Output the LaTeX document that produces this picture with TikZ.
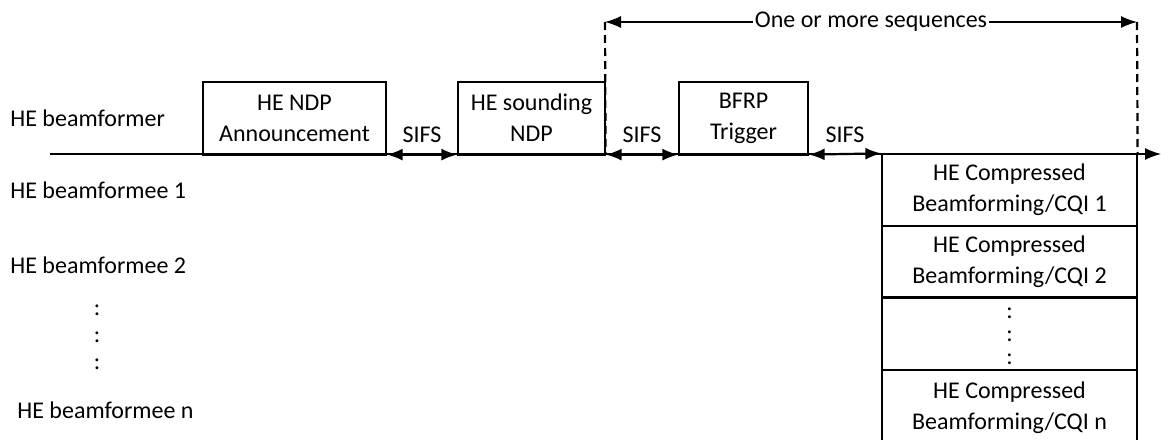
\documentclass[tikz,border=0pt]{standalone}
\usepackage{fontspec}
\setmainfont{Carlito}
\usetikzlibrary{arrows.meta}
\tikzset{
  frame/.style={draw, line width=0.6pt, align=center, inner sep=0pt},
  gap/.style={{Latex[length=8pt,width=6pt]}-{Latex[length=8pt,width=6pt]}, line width=1.1pt},
  span/.style={{Latex[length=8pt,width=6pt]}-{Latex[length=8pt,width=6pt]}, line width=0.6pt},
  guide/.style={dashed, line width=1.1pt, dash pattern=on 4pt off 2.5pt},
  station/.style={anchor=west, inner sep=0pt},
}
\begin{document}
\begin{tikzpicture}[x=0.5pt, y=-0.5pt, font=\fontsize{12}{15.5}\selectfont]
    \useasboundingbox (0,0) rectangle (1161,439);

    % Draw the station names
    \node[station] (bfr) at (10,118) {HE beamformer};
    \node[station] (bfe1) at (10,190) {HE beamformee 1};
    \node[station] (bfe2) at (10,265) {HE beamformee 2};
    \node (dl1) at (97,310) {:};
    \node (dl2) at (97,337) {:};
    \node (dl3) at (97,364) {:};
    \node[station] (bfen) at (17,410) {HE beamformee n};

    % Draw the timeline
    \coordinate (t0) at (50,154);
    \coordinate (t1) at (1161,154);
    \draw[line width=0.6pt, -{Latex[length=8pt,width=6pt]}] (t0) -- (t1);

    % Draw the frames
    \node[frame, minimum width=91.5pt, minimum height=36pt] (ann) at (294.5,118) {HE NDP\\Announcement};
    \node[frame, minimum width=73.5pt, minimum height=36pt] (ndp) at (531.5,118) {HE sounding\\NDP};
    \node[frame, minimum width=64.5pt, minimum height=36pt] (trig) at (743.5,118) {BFRP\\Trigger};
    \node[frame, minimum width=127.5pt, minimum height=36pt] (cbf1) at (1009.5,190) {HE Compressed\\Beamforming/CQI 1};
    \node[frame, minimum width=127.5pt, minimum height=35.5pt] (cbf2) at (1009.5,261.5) {HE Compressed\\Beamforming/CQI 2};
    \node[frame, minimum width=127.5pt, minimum height=36.5pt] (cbfd) at (1009.5,333.5) {};
    \node[frame, minimum width=127.5pt, minimum height=37.5pt] (cbfn) at (1009.5,407.5) {HE Compressed\\Beamforming/CQI n};
    \node (dr1) at (1009.5,313) {:};
    \node (dr2) at (1009.5,336) {:};
    \node (dr3) at (1009.5,359) {:};
    \draw[line width=1.4pt] (cbf2.south west) -- (cbf2.south east);
    \draw[line width=1.4pt] (ann.south west) -- (ann.south east);
    \draw[line width=1.4pt] (ndp.south west) -- (ndp.south east);
    \draw[line width=1.4pt] (trig.south west) -- (trig.south east);

    % Draw the SIFS gaps
    \draw[gap] (ann.south east) -- node[above=2pt] (s1) {SIFS} (ndp.south west);
    \draw[gap] (ndp.south east) -- node[above=2pt] (s2) {SIFS} (trig.south west);
    \draw[gap] (trig.south east) -- node[above=2pt] (s3) {SIFS} (cbf1.north west);

    % Draw the repeated part
    \coordinate (r0) at (605,22);
    \coordinate (r1) at (1137,22);
    \draw[guide] (r0) -- (ndp.south east);
    \draw[guide] (r1) -- (cbf1.north east);
    \draw[span] (r0) -- node[fill=white, inner xsep=1pt] (seq) {One or more sequences} (r1);
\end{tikzpicture}
\end{document}
